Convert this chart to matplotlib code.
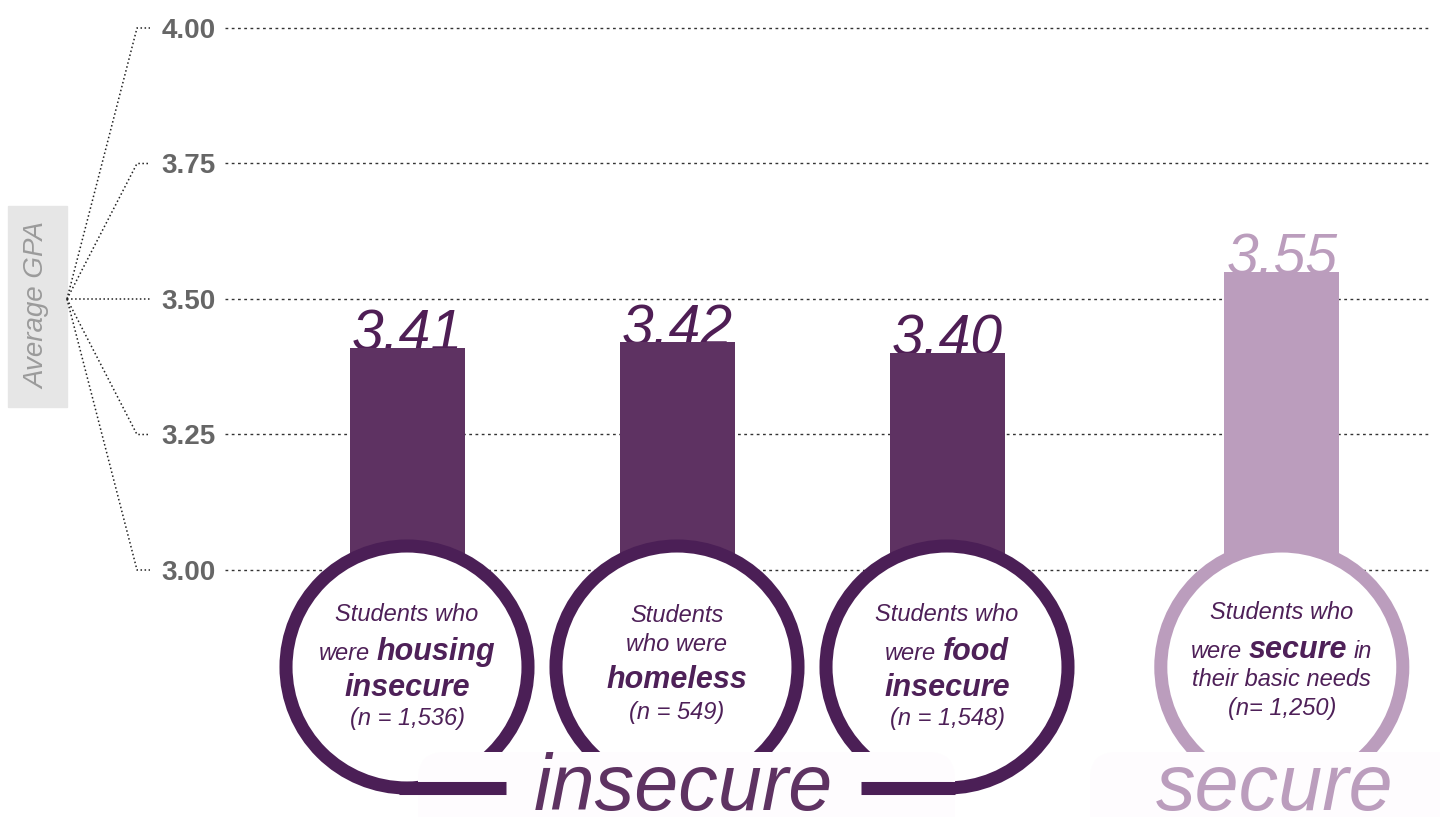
import numpy as np
import matplotlib.pyplot as plt
from matplotlib.patches import Rectangle, Ellipse, FancyBboxPatch
from matplotlib.offsetbox import TextArea, HPacker, AnnotationBbox

plt.rcParams['font.family'] = ['Liberation Sans', 'DejaVu Sans']

# average GPA by basic-needs group
gpa = [3.41, 3.42, 3.40, 3.55]
n_labels = ['(n = 1,536)', '(n = 549)', '(n = 1,548)', '(n= 1,250)']
yticks = [3.00, 3.25, 3.50, 3.75, 4.00]

# caption lines inside each ring: list of (text, bold) runs per line
captions = [
    [[('Students who', 0)], [('were', 0), ('housing', 1)], [('insecure', 1)]],
    [[('Students', 0)], [('who were', 0)], [('homeless', 1)]],
    [[('Students who', 0)], [('were', 0), ('food', 1)], [('insecure', 1)]],
    [[('Students who', 0)], [('were', 0), ('secure', 1), ('in', 0)], [('their basic needs', 0)]],
]

DARK = '#5e3262'
RING_DARK = '#4b1f56'
LIGHT = '#bb9dbd'
TXT = '#4e2058'

W, H = 1440, 817
PX_X, PX_Y = 270.0, 542.0   # pixels per slot / per GPA point
X0, Y0 = 407, 570           # pixel column of slot 0, pixel row of GPA 3.00


def dx(px):
    return (px - X0) / PX_X


def dy(py):
    return 3.0 + (Y0 - py) / PX_Y


fig = plt.figure(figsize=(W / 100, H / 100), dpi=100)
ax = fig.add_axes([0, 0, 1, 1])
ax.set_xlim(dx(0), dx(W))
ax.set_ylim(dy(H), dy(0))
ax.set_axis_off()

xpos = [0, 1, 2, 3.24]
bar_colors = [DARK, DARK, DARK, LIGHT]
ring_colors = [RING_DARK, RING_DARK, RING_DARK, LIGHT]
label_colors = ['#4f1e55', '#4f1e55', '#4f1e55', LIGHT]

# dotted grid + tick labels
for t in yticks:
    ax.plot([dx(225), dx(1430)], [t, t], color='#333333', lw=1.0,
            ls=(0, (2, 2.5)), zorder=1)
    ax.text(dx(216), t, f'{t:.2f}', ha='right', va='center_baseline',
            fontsize=20, fontweight='bold', color='#666666')
    # leader from the axis title to each tick
    ax.plot([dx(67), dx(137), dx(150)], [3.5, t, t], color='#222222',
            lw=1.1, ls=':', zorder=1)

ax.add_patch(Rectangle((dx(8), dy(407)), dx(67) - dx(8), dy(206) - dy(407),
                       color='#e6e6e6', zorder=0))
ax.text(dx(37.5), dy(306), 'Average GPA', rotation=90, ha='center', va='center',
        fontsize=20, style='italic', color='#9b9b9b')

# bars and values
ax.bar(xpos, np.array(gpa) - 3.0, bottom=3.0, width=115 / PX_X,
       color=bar_colors, zorder=3)
for x, v, c in zip(xpos, gpa, label_colors):
    ax.text(x, v - 0.005, f'{v:.2f}', ha='center', va='baseline', fontsize=41,
            style='italic', color=c, zorder=2)

# rings with captions
R = 121
RLW = 9.4
cy_px = 667
cy = dy(cy_px)
tail_px = [99, 0, -86, 0]
line_offsets = [
    [-52, -15, 21, 52],
    [-51, -22, 13, 46],
    [-52, -15, 21, 52],
    [-54, -17, 13, 42],
]

for i, x in enumerate(xpos):
    ax.add_patch(Ellipse((x, cy), 2 * R / PX_X, 2 * R / PX_Y, facecolor='white',
                         edgecolor=ring_colors[i], lw=RLW, zorder=4))
    lines = captions[i] + [[(n_labels[i], 0)]]
    for runs, off in zip(lines, line_offsets[i]):
        boxes = []
        for s, bold in runs:
            boxes.append(TextArea(s, textprops=dict(
                fontsize=22 if bold else 17, style='italic',
                fontweight='bold' if bold else 'normal', color=TXT,
                family=['Liberation Sans', 'DejaVu Sans'])))
        pack = HPacker(children=boxes, align='baseline', pad=0, sep=4.7)
        ab = AnnotationBbox(pack, (x, dy(cy_px + off)), frameon=False,
                            box_alignment=(0.5, 0.5), pad=0, zorder=6)
        ax.add_artist(ab)

# faint backing strips behind the group words
aspect = PX_X / PX_Y
for x1, x2 in [(418, 955), (1090, 1480)]:
    ax.add_patch(FancyBboxPatch((dx(x1), dy(850)), dx(x2) - dx(x1), dy(752) - dy(850),
                                boxstyle='round,pad=0,rounding_size=0.1',
                                mutation_aspect=aspect, facecolor='#fefcfe',
                                edgecolor='none', zorder=5))

for i, x in enumerate(xpos):
    if tail_px[i]:
        yb = cy - R / PX_Y
        x_end = x + tail_px[i] / PX_X
        x_start = x - np.sign(tail_px[i]) * 0.03
        ax.plot([x_start, x_end], [yb, yb], color=ring_colors[i], lw=RLW,
                solid_capstyle='butt', zorder=6)

ax.text(dx(683), dy(810), 'insecure', ha='center', va='baseline', fontsize=57,
        style='italic', color=DARK, zorder=7)
ax.text(dx(1275), dy(810), 'secure', ha='center', va='baseline', fontsize=57,
        style='italic', color=LIGHT, zorder=7)

fig.savefig('out.png', dpi=100)
